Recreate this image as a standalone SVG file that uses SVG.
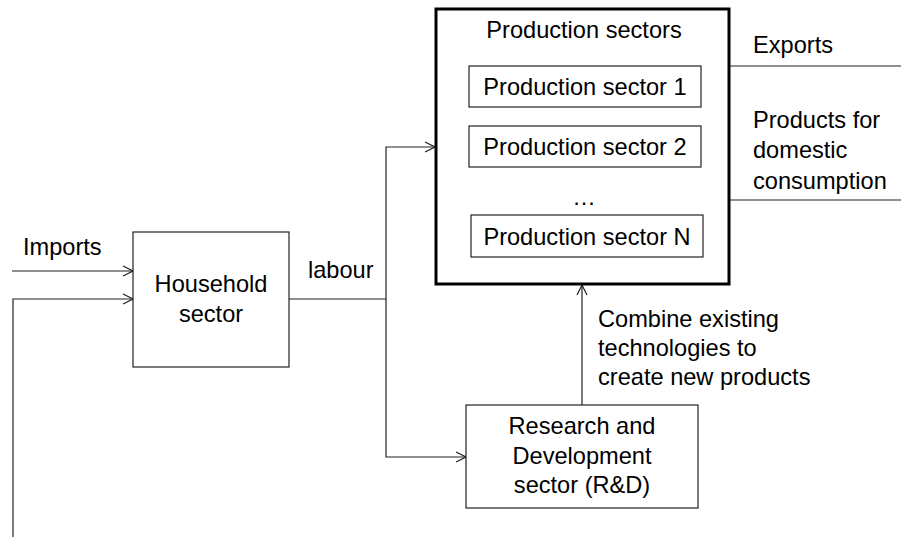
<svg xmlns="http://www.w3.org/2000/svg" width="901" height="537" viewBox="0 0 901 537">
<style>
text{font-family:"Liberation Sans",Arial,sans-serif;font-size:23.6px;fill:#000}
.c{text-anchor:middle}
.box{fill:#fff;stroke:#222;stroke-width:1.2}
.main{fill:#fff;stroke:#000;stroke-width:3}
.ln{fill:none;stroke:#222;stroke-width:1.2}
</style>
<defs>
<marker id="ar" markerUnits="userSpaceOnUse" markerWidth="12" markerHeight="12" refX="11" refY="6" orient="auto">
<path d="M1,1 L11,6 L1,11" fill="none" stroke="#222" stroke-width="1.2"/>
</marker>
</defs>
<rect width="901" height="537" fill="#fff"/>
<g id="connectors">
<path class="ln" d="M12,271 H133" marker-end="url(#ar)"/>
<path class="ln" d="M13,537 V299 H133" marker-end="url(#ar)"/>
<path class="ln" d="M289,299 H386"/>
<path class="ln" d="M386,299 V147 H435" marker-end="url(#ar)"/>
<path class="ln" d="M386,299 V457 H466" marker-end="url(#ar)"/>
<path class="ln" d="M582,405 V285" marker-end="url(#ar)"/>
<path class="ln" d="M729,66 H901"/>
<path class="ln" d="M729,200 H901"/>
</g>
<g id="labels">
<text x="23" y="255">Imports</text>
<text x="308" y="278">labour</text>
<text x="753" y="53">Exports</text>
<text x="753" y="128">Products for</text>
<text x="753" y="158">domestic</text>
<text x="753" y="189">consumption</text>
<text x="598" y="327">Combine existing</text>
<text x="598" y="356">technologies to</text>
<text x="598" y="385">create new products</text>
</g>
<g id="household">
<rect class="box" x="133" y="232" width="156" height="135"/>
<text class="c" x="211" y="292">Household</text>
<text class="c" x="211" y="322">sector</text>
</g>
<g id="production">
<rect class="main" x="436" y="9" width="293" height="275"/>
<text class="c" x="584" y="38">Production sectors</text>
<text class="c" x="584" y="205">…</text>
</g>
<g id="sector1">
<rect class="box" x="469" y="66" width="232" height="41"/>
<text class="c" x="585" y="95">Production sector 1</text>
</g>
<g id="sector2">
<rect class="box" x="469" y="126" width="232" height="41"/>
<text class="c" x="585" y="155">Production sector 2</text>
</g>
<g id="sectorN">
<rect class="box" x="471" y="215" width="232" height="42"/>
<text class="c" x="587" y="245">Production sector N</text>
</g>
<g id="rd">
<rect class="box" x="466" y="405" width="232" height="103"/>
<text class="c" x="582" y="434">Research and</text>
<text class="c" x="582" y="464">Development</text>
<text class="c" x="582" y="493">sector (R&amp;D)</text>
</g>
</svg>
